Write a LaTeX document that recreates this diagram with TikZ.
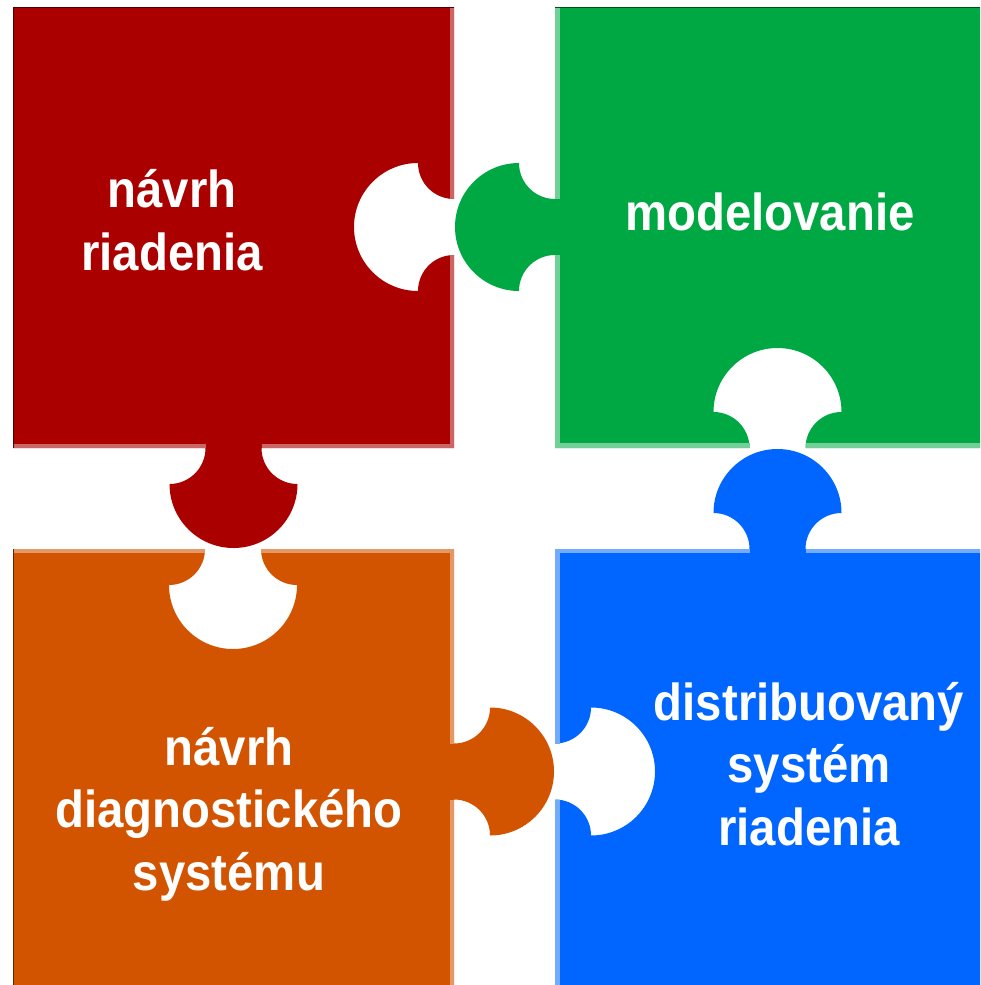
\documentclass[tikz,border=0pt]{standalone}
\usepackage{fontspec}
\newfontfamily\piecefont{Liberation Sans}[FakeStretch=0.91]
\definecolor{pieceRed}{RGB}{170,0,0}
\definecolor{pieceGreen}{RGB}{0,168,68}
\definecolor{pieceOrange}{RGB}{211,84,0}
\definecolor{pieceBlue}{RGB}{0,102,255}
\begin{document}
\begin{tikzpicture}[x=1pt,y=1pt,
  caption/.style={text=white, font=\piecefont\bfseries\fontsize{52}{62.5}\selectfont,
    align=center, anchor=base, inner sep=0pt},
  band/.style={line width=4.5pt},
  rim/.style={line width=1pt}]
\useasboundingbox (0,0) rectangle (980,-985);

% top-left piece: notch on the right, tab at the bottom
\fill[pieceRed] (13,-7) -- (454,-7) -- (454,-199)
  arc[start angle=270, end angle=180, radius=36pt]
  arc[start angle=90, end angle=270, radius=64pt]
  arc[start angle=180, end angle=90, radius=36pt]
  -- (454,-448) -- (261.5,-448)
  arc[start angle=180, end angle=270, radius=36pt]
  arc[start angle=0, end angle=-180, radius=64pt]
  arc[start angle=270, end angle=360, radius=36pt]
  -- (13,-448) -- cycle;
\draw[band, pieceRed!60!white] (452,-7) -- (452,-199) (452,-255) -- (452,-446);
\draw[band, pieceRed!60!white] (13,-446) -- (205.5,-446) (261.5,-446) -- (454,-446);
\draw[rim, pieceRed!45!black] (13,-448) -- (13,-7) -- (454,-7);

% top-right piece: tab on the left, notch at the bottom
\fill[pieceGreen] (555,-7) -- (980,-7) -- (980,-448) -- (805.5,-448)
  arc[start angle=180, end angle=90, radius=36pt]
  arc[start angle=0, end angle=180, radius=64pt]
  arc[start angle=90, end angle=0, radius=36pt]
  -- (555,-448) -- (555,-255)
  arc[start angle=90, end angle=180, radius=36pt]
  arc[start angle=270, end angle=90, radius=64pt]
  arc[start angle=180, end angle=270, radius=36pt]
  -- cycle;
\draw[band, pieceGreen!55!white] (557.5,-7) -- (557.5,-199) (557.5,-255) -- (557.5,-448);
\draw[band, pieceGreen!55!white] (555,-445.5) -- (749.5,-445.5) (805.5,-445.5) -- (980,-445.5);
\draw[rim, pieceGreen!45!black] (555,-7) -- (980,-7);

% bottom-left piece: notch at the top, tab on the right
\fill[pieceOrange] (13,-985) -- (13,-549) -- (205,-549)
  arc[start angle=0, end angle=-90, radius=36pt]
  arc[start angle=180, end angle=360, radius=64pt]
  arc[start angle=270, end angle=180, radius=36pt]
  -- (454,-549) -- (454,-743.5)
  arc[start angle=270, end angle=360, radius=36pt]
  arc[start angle=90, end angle=-90, radius=64pt]
  arc[start angle=0, end angle=90, radius=36pt]
  -- (454,-985) -- cycle;
\draw[band, pieceOrange!60!white] (13,-551) -- (205,-551) (261,-551) -- (454,-551);
\draw[band, pieceOrange!60!white] (452,-549) -- (452,-743.5) (452,-799.5) -- (452,-985);
\draw[rim, pieceOrange!45!black] (13,-549) -- (13,-985);

% bottom-right piece: notch on the left, tab at the top
\fill[pieceBlue] (555,-985) -- (555,-799.5)
  arc[start angle=90, end angle=0, radius=36pt]
  arc[start angle=-90, end angle=90, radius=64pt]
  arc[start angle=360, end angle=270, radius=36pt]
  -- (555,-549) -- (749.5,-549)
  arc[start angle=0, end angle=90, radius=36pt]
  arc[start angle=180, end angle=0, radius=64pt]
  arc[start angle=90, end angle=180, radius=36pt]
  -- (980,-549) -- (980,-985) -- cycle;
\draw[band, pieceBlue!55!white] (555,-551) -- (749.5,-551) (805.5,-551) -- (980,-551);
\draw[band, pieceBlue!55!white] (557.5,-549) -- (557.5,-743.5) (557.5,-799.5) -- (557.5,-985);

% captions (base anchor sits on the last line)
\node[caption] (design) at (172,-270) {návrh\\riadenia};
\node[caption] (model) at (770,-230) {modelovanie};
\node[caption] (diag) at (229,-890) {návrh\\diagnostického\\systému};
\node[caption] (dcs) at (809,-845) {distribuovaný\\systém\\riadenia};
\end{tikzpicture}
\end{document}
